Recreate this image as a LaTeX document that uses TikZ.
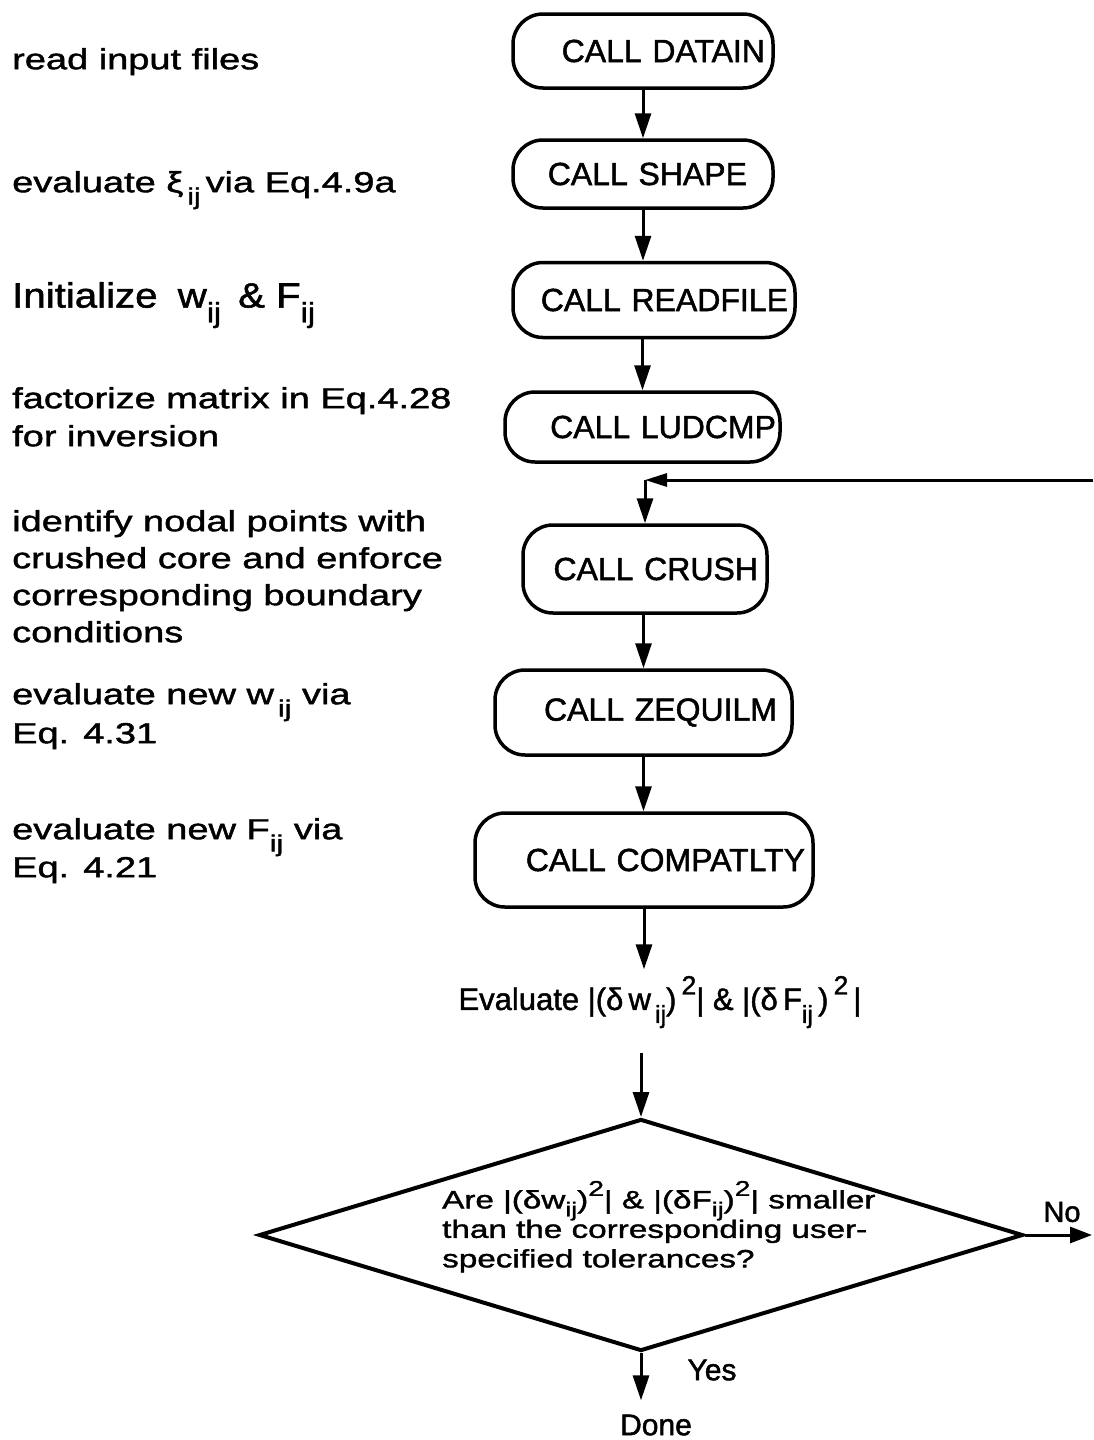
\documentclass[tikz,border=0pt]{standalone}
\usepackage{fontspec}
\usepackage{graphicx}
\setmainfont[FakeBold=1.5]{Liberation Sans}
% wide sans faces for the side notes and the decision text
\newfontfamily\notefont[FakeStretch=1.31,FakeBold=1.5]{Liberation Sans}
\newfontfamily\bignotefont[FakeStretch=1.15,FakeBold=1.5]{Liberation Sans}
\newfontfamily\askfont[FakeStretch=1.33,FakeBold=1.5]{Liberation Sans}
\usetikzlibrary{arrows.meta,shapes.geometric,calc}
% index and power marks that do not disturb the line spacing
\newcommand\lowsub[1]{\raisebox{-0.42em}[0pt][0pt]{\scalebox{0.8}{#1}}}
\newcommand\highsup[1]{\raisebox{0.5em}[0pt][0pt]{\scalebox{0.85}{#1}}}

\begin{document}
\begin{tikzpicture}[x=1pt,y=-1pt,
  callbox/.style={draw, line width=3.5pt, rounded corners=30pt, align=right,
    inner ysep=0pt, font=\fontsize{32}{38}\selectfont},
  note/.style={anchor=north west, align=left, inner sep=0pt,
    font=\notefont\fontsize{29}{37}\selectfont},
  flow/.style={line width=3pt, -{Triangle[length=25pt,width=16pt]}},
  plain/.style={inner sep=0pt, font=\fontsize{30}{36}\selectfont}
]
\path[use as bounding box, fill=white] (0,0) rectangle (1093,1440);

% ---- subroutine calls ----
\node[callbox, minimum height=74pt, inner xsep=8pt,  text width=244pt] (datain)  at (643,51)    {CALL DATAIN};
\node[callbox, minimum height=68pt, inner xsep=26pt, text width=208pt] (shape)   at (643,174)   {CALL SHAPE};
\node[callbox, minimum height=75pt, inner xsep=7pt,  text width=268pt] (readfile) at (654,300)  {CALL READFILE};
\node[callbox, minimum height=70pt, inner xsep=4pt,  text width=267pt] (ludcmp)  at (642.5,427) {CALL LUDCMP};
\node[callbox, minimum height=88pt, inner xsep=9pt,  text width=226pt] (crush)   at (645,569)   {CALL CRUSH};
\node[callbox, minimum height=85pt, inner xsep=15pt, text width=267pt] (zequilm) at (643.5,712.5) {CALL ZEQUILM};
\node[callbox, minimum height=94pt, inner xsep=8pt,  text width=322pt] (compat)  at (644,860)   {CALL COMPATLTY};

% ---- convergence check ----
\node[plain, font=\fontsize{31}{36}\selectfont] (eval) at (660,1002)
  {Evaluate |(δ\,w\lowsub{\,ij})\,\highsup{2}| \& |(δ\,F\lowsub{ij}\,)\,\highsup{2}\,|};
\node[draw, diamond, line width=4pt, minimum width=764pt, minimum height=232pt,
  inner sep=0pt] (decision) at (641,1235) {};
\node[anchor=north west, align=left, inner sep=0pt,
  font=\askfont\fontsize{25}{29.5}\selectfont] (question) at (442,1190)
  {Are |(δw\raisebox{-0.32em}[0pt][0pt]{\scalebox{0.8}{ij}})\highsup{2}| \&
   |(δF\raisebox{-0.32em}[0pt][0pt]{\scalebox{0.8}{ij}})\highsup{2}| smaller\\
   than the corresponding user-\\
   specified tolerances?};
\node[plain] (yes)  at (712,1370)  {Yes};
\node[plain] (done) at (656,1425)  {Done};
\node[plain, font=\fontsize{29}{34}\selectfont] (no) at (1062,1212) {No};

\coordinate (noexit)   at (1092,1235);
\coordinate (loopin)   at (1093,480);
\coordinate (loopturn) at (645,480);

% ---- side notes ----
\node[note] (n1) at (12,48)  {read input files};
\node[note, font=\notefont\fontsize{29}{35}\selectfont] (n2) at (12,171)
  {evaluate ξ\lowsub{\,ij}\,via Eq.4.9a};
\node[note, font=\bignotefont\fontsize{35}{40}\selectfont] (n3) at (12,282)
  {Initialize\hspace{9pt} w\lowsub{ij}\, \& F\lowsub{ij}};
\node[note, font=\notefont\fontsize{29}{38}\selectfont] (n4) at (12,387)
  {factorize matrix in Eq.4.28\\for inversion};
\node[note] (n5) at (12,510)
  {identify nodal points with\\crushed core and enforce\\corresponding boundary\\conditions};
\node[note, font=\notefont\fontsize{29}{39}\selectfont] (n6) at (12,683)
  {evaluate new w\lowsub{\,ij} via\\Eq. 4.31};
\node[note, font=\notefont\fontsize{29}{38}\selectfont] (n7) at (12,818)
  {evaluate new F\lowsub{ij} via\\Eq. 4.21};

% ---- connectors ----
\draw[flow] (datain.south) -- (shape.north);
\draw[flow] (shape.south) -- (shape.south |- readfile.north);
\draw[flow] (ludcmp.north |- readfile.south) -- (ludcmp.north);
\draw[line width=3pt, -{Triangle[length=22pt,width=13pt]}] (loopin) -- (loopturn);
\draw[flow] (loopturn) -- (crush.north);
\draw[flow] (zequilm.north |- crush.south) -- (zequilm.north);
\draw[flow] (zequilm.south) -- (zequilm.south |- compat.north);
\draw[flow, shorten >=18pt] (compat.south) -- (compat.south |- eval.north);
\draw[flow, shorten <=36pt] (decision.north |- eval.south) -- (decision.north);
\draw[flow, shorten >=14pt] (decision.south) -- (decision.south |- done.north);
\draw[line width=3pt, -{Triangle[length=22pt,width=16pt]}] (decision.east) -- (noexit);
\end{tikzpicture}
\end{document}
